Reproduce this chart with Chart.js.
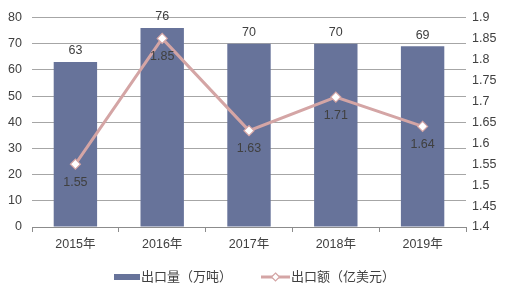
<!DOCTYPE html>
<html>
<head>
<meta charset="utf-8">
<script src="https://cdn.jsdelivr.net/npm/chart.js@4/dist/chart.umd.min.js"></script>
<style>
  html, body { margin: 0; padding: 0; background: #fff; }
  #wrap { width: 507px; height: 291px; position: relative; }
</style>
</head>
<body>
<div id="wrap"><canvas id="chart" width="507" height="291"></canvas></div>
<script>
const years = ["2015年", "2016年", "2017年", "2018年", "2019年"];
const volume = [63, 76, 70, 70, 69];
const amount = [1.55, 1.85, 1.63, 1.71, 1.64];
const volumeLabel = "出口量（万吨）";
const amountLabel = "出口额（亿美元）";

const FONT = "Arial, 'Liberation Sans', 'Noto Sans CJK SC', sans-serif";
const TEXT = "#404040";
const BAR = "#67739A";
const LINE = "#D4A5A5";

// value labels: above bars, below line points
const valueLabels = {
  id: "valueLabels",
  afterDatasetsDraw(chart) {
    const { ctx } = chart;
    ctx.save();
    ctx.font = "12.5px " + FONT;
    ctx.fillStyle = TEXT;
    ctx.textAlign = "center";
    chart.data.datasets.forEach((ds, i) => {
      const meta = chart.getDatasetMeta(i);
      meta.data.forEach((pt, j) => {
        if (ds.type === "bar") {
          ctx.textBaseline = "bottom";
          ctx.fillText(String(ds.data[j]), pt.x, pt.y - 5);
        } else {
          ctx.textBaseline = "middle";
          ctx.fillText(ds.data[j].toFixed(2), pt.x, pt.y + 18);
        }
      });
    });
    ctx.restore();
  }
};

// legend drawn at the bottom like the original
const bottomLegend = {
  id: "bottomLegend",
  afterDraw(chart) {
    const { ctx } = chart;
    const y = 277;
    ctx.save();
    ctx.font = "13px " + FONT;
    ctx.fillStyle = TEXT;
    ctx.textBaseline = "middle";
    ctx.textAlign = "left";
    // bar item
    ctx.fillStyle = BAR;
    ctx.fillRect(114, y - 3, 26, 6);
    ctx.fillStyle = TEXT;
    ctx.fillText(volumeLabel, 141, y);
    // line item
    ctx.strokeStyle = LINE;
    ctx.lineWidth = 3;
    ctx.beginPath();
    ctx.moveTo(261, y);
    ctx.lineTo(290, y);
    ctx.stroke();
    ctx.fillStyle = "#fff";
    ctx.lineWidth = 1.2;
    ctx.beginPath();
    ctx.moveTo(275.5, y - 4);
    ctx.lineTo(279.5, y);
    ctx.lineTo(275.5, y + 4);
    ctx.lineTo(271.5, y);
    ctx.closePath();
    ctx.fill();
    ctx.stroke();
    ctx.fillStyle = TEXT;
    ctx.fillText(amountLabel, 291, y);
    ctx.restore();
  }
};

new Chart(document.getElementById("chart").getContext("2d"), {
  data: {
    labels: years,
    datasets: [
      {
        type: "line",
        label: amountLabel,
        data: amount,
        yAxisID: "y1",
        borderColor: LINE,
        borderWidth: 3,
        pointStyle: "rectRot",
        pointRadius: 5,
        pointBorderWidth: 1.2,
        pointBackgroundColor: "#fff",
        pointBorderColor: LINE,
        tension: 0,
        order: 0
      },
      {
        type: "bar",
        label: volumeLabel,
        data: volume,
        yAxisID: "y",
        backgroundColor: BAR,
        categoryPercentage: 1,
        barPercentage: 0.5,
        order: 1
      }
    ]
  },
  options: {
    responsive: false,
    animation: false,
    layout: { padding: { top: 8, bottom: 34, left: 0, right: 0 } },
    plugins: { legend: { display: false }, tooltip: { enabled: false } },
    scales: {
      x: {
        grid: { display: true, drawOnChartArea: false, offset: true, color: "#8c8c8c", tickLength: 5, tickColor: "#8c8c8c" },
        border: { color: "#8c8c8c" },
        ticks: { color: TEXT, font: { size: 12.5, family: FONT }, padding: 5 }
      },
      y: {
        position: "left",
        min: 0, max: 80,
        afterFit(s) { s.width = 32; },
        grid: { color: "#a6a6a6", drawTicks: false },
        border: { display: false },
        ticks: { stepSize: 10, color: TEXT, font: { size: 12.5, family: FONT }, padding: 10 }
      },
      y1: {
        position: "right",
        min: 1.4, max: 1.9,
        afterFit(s) { s.width = 41; },
        grid: { display: false, drawTicks: false },
        border: { display: false },
        ticks: {
          stepSize: 0.05, color: TEXT, font: { size: 12.5, family: FONT }, padding: 6,
          callback: (v) => String(Math.round(v * 100) / 100)
        }
      }
    }
  },
  plugins: [valueLabels, bottomLegend]
});
</script>
</body>
</html>
